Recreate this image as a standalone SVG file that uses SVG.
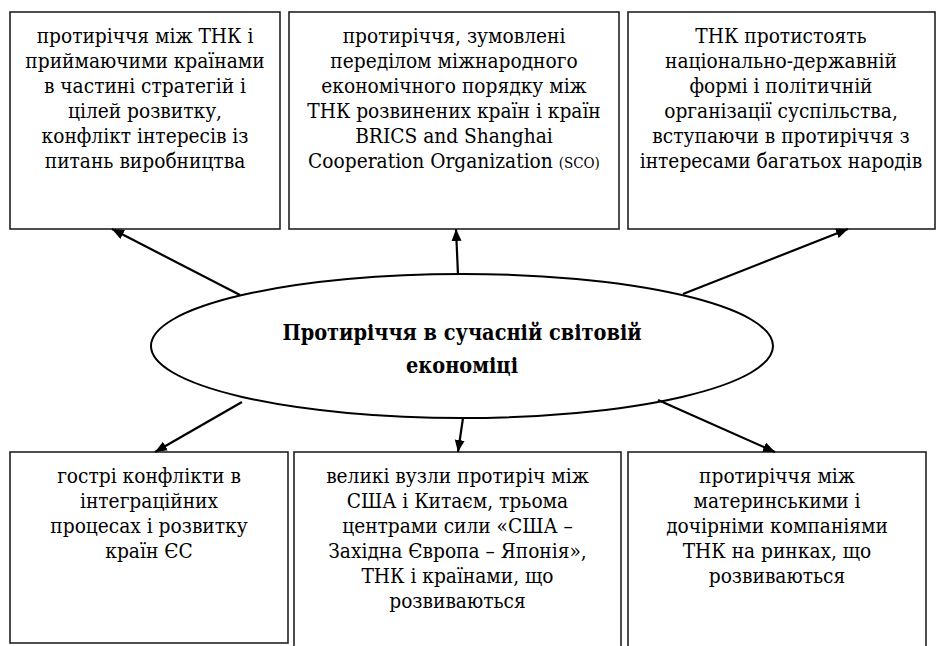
<svg xmlns="http://www.w3.org/2000/svg" width="937" height="646" viewBox="0 0 937 646">
<defs>
<marker id="ah" markerUnits="userSpaceOnUse" markerWidth="14" markerHeight="12" refX="12" refY="5" orient="auto">
<path d="M0,0 L12,5 L0,10 Z" fill="#000"/>
</marker>
<style>
.box{fill:#fff;stroke:#222;stroke-width:1.6}
.t{font-family:"DejaVu Serif Condensed","DejaVu Serif","Liberation Serif",serif;font-size:20.7px;fill:#000;text-anchor:middle}
.h{font-family:"DejaVu Serif Condensed","DejaVu Serif","Liberation Serif",serif;font-size:21.5px;font-weight:bold;fill:#000;text-anchor:middle}
.c{stroke:#000;stroke-width:2.2;fill:none;marker-end:url(#ah)}
</style>
</defs>
<rect width="937" height="646" fill="#fff"/>
<g id="box1">
<rect class="box" x="10" y="12" width="270" height="217"/>
<text class="t" x="145" y="43">протиріччя між ТНК і</text>
<text class="t" x="145" y="68">приймаючими країнами</text>
<text class="t" x="145" y="93">в частині стратегій і</text>
<text class="t" x="145" y="118">цілей розвитку,</text>
<text class="t" x="145" y="143">конфлікт інтересів із</text>
<text class="t" x="145" y="168">питань виробництва</text>
</g>
<g id="box2">
<rect class="box" x="289" y="12" width="330" height="217"/>
<text class="t" x="454" y="43">протиріччя, зумовлені</text>
<text class="t" x="454" y="68">переділом міжнародного</text>
<text class="t" x="454" y="93">економічного порядку між</text>
<text class="t" x="454" y="118">ТНК розвинених країн і країн</text>
<text class="t" x="454" y="143">BRICS and Shanghai</text>
<text class="t" x="454" y="168">Cooperation Organization <tspan font-size="15">(SCO)</tspan></text>
</g>
<g id="box3">
<rect class="box" x="628" y="12" width="307" height="217"/>
<text class="t" x="781" y="43">ТНК протистоять</text>
<text class="t" x="781" y="68">національно-державній</text>
<text class="t" x="781" y="93">формі і політичній</text>
<text class="t" x="781" y="118">організації суспільства,</text>
<text class="t" x="781" y="143">вступаючи в протиріччя з</text>
<text class="t" x="781" y="168">інтересами багатьох народів</text>
</g>
<g id="center">
<ellipse cx="462" cy="346" rx="311" ry="72" fill="#fff" stroke="#000" stroke-width="2"/>
<text class="h" x="462" y="340">Протиріччя в сучасній світовій</text>
<text class="h" x="462" y="373">економіці</text>
</g>
<g id="box4">
<rect class="box" x="10" y="452" width="278" height="191"/>
<text class="t" x="149" y="483">гострі конфлікти в</text>
<text class="t" x="149" y="508">інтеграційних</text>
<text class="t" x="149" y="533">процесах і розвитку</text>
<text class="t" x="149" y="558">країн ЄС</text>
</g>
<g id="box5">
<rect class="box" x="294" y="452" width="327" height="200"/>
<text class="t" x="457.5" y="483">великі вузли протиріч між</text>
<text class="t" x="457.5" y="508">США і Китаєм, трьома</text>
<text class="t" x="457.5" y="533">центрами сили «США –</text>
<text class="t" x="457.5" y="558">Західна Європа – Японія»,</text>
<text class="t" x="457.5" y="583">ТНК і країнами, що</text>
<text class="t" x="457.5" y="608">розвиваються</text>
</g>
<g id="box6">
<rect class="box" x="628" y="452" width="298" height="200"/>
<text class="t" x="777" y="483">протиріччя між</text>
<text class="t" x="777" y="508">материнськими і</text>
<text class="t" x="777" y="533">дочірніми компаніями</text>
<text class="t" x="777" y="558">ТНК на ринках, що</text>
<text class="t" x="777" y="583">розвиваються</text>
</g>
<g id="connectors">
<line class="c" x1="240" y1="295" x2="112" y2="229"/>
<line class="c" x1="458" y1="275" x2="456" y2="229"/>
<line class="c" x1="683" y1="294" x2="848" y2="229"/>
<line class="c" x1="242" y1="402" x2="155" y2="452"/>
<line class="c" x1="463" y1="418" x2="458" y2="452"/>
<line class="c" x1="658" y1="400" x2="775" y2="452"/>
</g>
</svg>
